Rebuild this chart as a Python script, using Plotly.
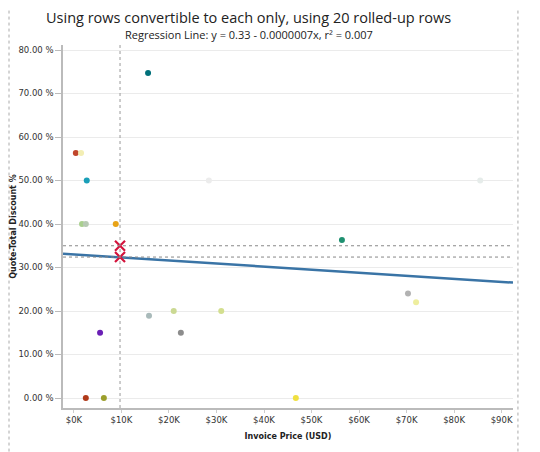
import plotly.graph_objects as go

# rolled-up rows: invoice price (USD) and quote total discount (fraction)
invoice_price = [15600, 400, 1500, 2700, 1700, 2500, 8800, 28400, 85500, 56400,
                 15800, 21000, 31000, 22500, 5500, 70300, 72000, 2500, 6300, 46700]
discount = [0.747, 0.563, 0.563, 0.50, 0.40, 0.40, 0.40, 0.50, 0.50, 0.363,
            0.189, 0.20, 0.20, 0.15, 0.15, 0.24, 0.22, 0.0, 0.0, 0.0]
point_colors = ['#00707a', '#c0462b', '#f3eeb4', '#1a9fb8', '#a9cf8e', '#b7c9b3',
                '#e8a317', '#ececec', '#e6ecea', '#1e9070', '#a9baba', '#cbd993',
                '#d3df8f', '#8c8c8c', '#6a1fb5', '#b2b2b2', '#eeee9e', '#b03a1a',
                '#9c9f2c', '#f0e040']

# regression y = 0.33 - 0.0000007x
reg_x = [-2300, 92400]
reg_y = [0.33 - 0.0000007 * v for v in reg_x]

# reference markers
ref_x = [9700, 9700]
ref_y = [0.350, 0.324]

x_ticks = [0, 10000, 20000, 30000, 40000, 50000, 60000, 70000, 80000, 90000]
x_labels = ['$0K', '$10K', '$20K', '$30K', '$40K', '$50K', '$60K', '$70K', '$80K', '$90K']
y_ticks = [0, 0.1, 0.2, 0.3, 0.4, 0.5, 0.6, 0.7, 0.8]
y_labels = ['%.2f %%' % (v * 100) for v in y_ticks]

tick_font = dict(family='DejaVu Sans', size=8.5, color='#333333')

fig = go.Figure()

fig.add_trace(go.Scatter(x=invoice_price, y=discount, mode='markers',
                         marker=dict(size=6, color=point_colors, line=dict(width=0)),
                         showlegend=False))

fig.add_trace(go.Scatter(x=reg_x, y=reg_y, mode='lines',
                         line=dict(color='#3a74a6', width=2.5), showlegend=False))

fig.add_trace(go.Scatter(x=ref_x, y=ref_y, mode='markers',
                         marker=dict(symbol='x-thin', size=10, line=dict(color='#d4133c', width=2.2)),
                         showlegend=False))

# dotted reference lines through the markers
shapes = [dict(type='line', xref='x', yref='paper', x0=ref_x[0], x1=ref_x[0], y0=0, y1=1,
               line=dict(color='#999999', width=1, dash='dot'))]
for v in ref_y:
    shapes.append(dict(type='line', xref='paper', yref='y', x0=0, x1=1, y0=v, y1=v,
                       line=dict(color='#888888', width=1, dash='dot')))
# dashboard frame
for px_ in [-0.12, 1.011]:
    shapes.append(dict(type='line', xref='paper', yref='paper', x0=px_, x1=px_, y0=-0.12, y1=1.12,
                       line=dict(color='#aaaaaa', width=1, dash='dot')))

# page body adds ~8px offset, so figure is a bit smaller than the window
fig.update_layout(
    width=532, height=444,
    margin=dict(l=55, r=27, t=37, b=44),
    paper_bgcolor='white', plot_bgcolor='white',
    shapes=shapes,
    annotations=[
        dict(text='Using rows convertible to each only, using 20 rolled-up rows',
             xref='paper', yref='paper', x=0.413, y=1.077, yanchor='middle', showarrow=False,
             font=dict(family='Open Sans', size=14.5, color='#222222')),
        dict(text='Regression Line: y = 0.33 - 0.0000007x, r\u00b2 = 0.007',
             xref='paper', yref='paper', x=0.413, y=1.03, yanchor='middle', showarrow=False,
             font=dict(family='Open Sans', size=11, color='#222222')),
    ],
)

fig.update_xaxes(range=[-2300, 92400], tickvals=x_ticks, ticktext=x_labels,
                 tickfont=tick_font, showgrid=False, zeroline=False, automargin=False,
                 showline=True, linecolor='#bbbbbb', linewidth=1.5,
                 ticks='outside', ticklen=3, tickcolor='#cccccc',
                 title=dict(text='<b>Invoice Price (USD)</b>', standoff=9,
                            font=dict(family='DejaVu Sans', size=8, color='#222222')))

fig.update_yaxes(range=[-0.023, 0.8115], tickvals=y_ticks, ticktext=y_labels,
                 tickfont=tick_font, showgrid=True, gridcolor='#ebebeb', gridwidth=1,
                 zeroline=False, showline=True, linecolor='#bbbbbb', linewidth=1.5,
                 automargin=False,
                 ticks='outside', ticklen=6, tickcolor='#bbbbbb',
                 title=dict(text='<b>Quote-Total Discount %</b>', standoff=0,
                            font=dict(family='DejaVu Sans', size=8, color='#222222')))

fig.write_html("out.html")
